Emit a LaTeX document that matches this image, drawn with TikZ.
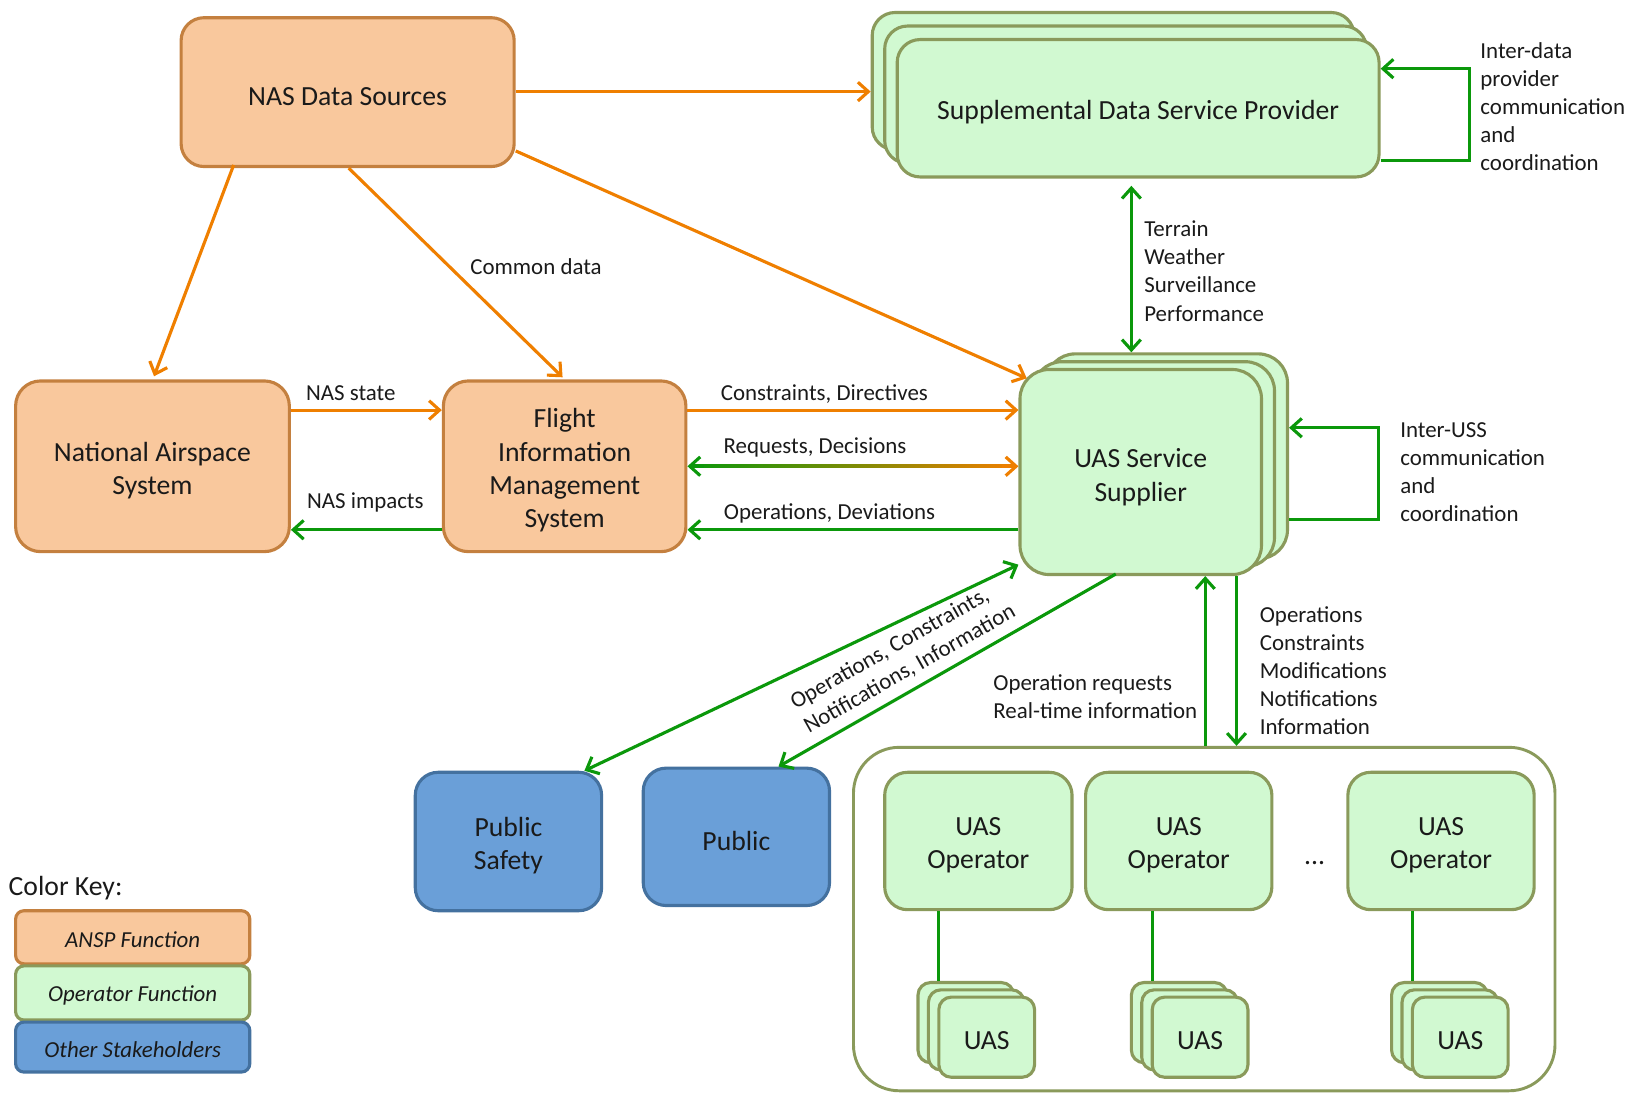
\documentclass[tikz,border=0pt]{standalone}
\usepackage{fontspec}
\setmainfont{Carlito}
\usetikzlibrary{arrows.meta,calc}
\definecolor{ofill}{HTML}{F9C89D}
\definecolor{oborder}{HTML}{C4803F}
\definecolor{oarrow}{HTML}{EF7F00}
\definecolor{gfill}{HTML}{D1F9D1}
\definecolor{gborder}{HTML}{8A9A5B}
\definecolor{garrow}{HTML}{0B980B}
\definecolor{bfill}{HTML}{6A9FD8}
\definecolor{bborder}{HTML}{44719F}
\definecolor{txt}{HTML}{1A1A1A}
\newcommand{\mainfs}{\fontsize{13.3}{16}\selectfont}
\newcommand{\lblfs}{\fontsize{11}{13.5}\selectfont}
\begin{document}
\begin{tikzpicture}[x=0.5pt,y=-0.5pt,
  >={Straight Barb[length=5pt,width=9pt]},
  box/.style={rectangle, line width=1.5pt, inner sep=0pt},
  obox/.style={box, fill=ofill, draw=oborder},
  gbox/.style={box, fill=gfill, draw=gborder},
  bbox/.style={box, fill=bfill, draw=bborder},
  btxt/.style={font=\mainfs, text=txt, align=center, inner sep=0pt, yshift=-2pt},
  ktxt/.style={font=\lblfs\itshape, text=txt, inner sep=0pt, yshift=-1.2pt},
  oarr/.style={draw=oarrow, line width=1.5pt, ->},
  garr/.style={draw=garrow, line width=1.5pt, ->},
  gline/.style={draw=garrow, line width=1.3pt},
  lbl/.style={font=\lblfs, text=txt, inner sep=0pt, align=left},
  keybox/.style={rounded corners=4pt, minimum width=112.5pt}
]
\useasboundingbox (0,0) rectangle (1568,1050);

% ---- boxes ----
\node[obox, rounded corners=11pt, minimum width=160pt, minimum height=71.5pt,
  label={[btxt]center:NAS Data Sources}] (nds) at (334,88.5) {};

\node[gbox, rounded corners=11pt, minimum width=231.5pt, minimum height=66pt] (sdspC) at (1069.5,78) {};
\node[gbox, rounded corners=11pt, minimum width=231.5pt, minimum height=66pt] (sdspB) at (1081.5,91) {};
\node[gbox, rounded corners=11pt, minimum width=231.5pt, minimum height=66pt,
  label={[btxt]center:Supplemental Data Service Provider}] (sdsp) at (1093.5,104) {};

\node[obox, rounded corners=12pt, minimum width=131.5pt, minimum height=82pt,
  label={[btxt]center:{National Airspace\\System}}] (nas) at (146.5,448) {};
\node[obox, rounded corners=12pt, minimum width=116.5pt, minimum height=82pt,
  label={[btxt]center:{Flight\\Information\\Management\\System}}] (fims) at (542.5,448) {};

\node[gbox, rounded corners=14pt, minimum width=116pt, minimum height=98.5pt] (ussC) at (1121,438.5) {};
\node[gbox, rounded corners=14pt, minimum width=116pt, minimum height=98.5pt] (ussB) at (1108.5,446) {};
\node[gbox, rounded corners=14pt, minimum width=116pt, minimum height=98.5pt,
  label={[btxt, yshift=-0.5pt]center:{UAS Service\\Supplier}}] (uss) at (1096,453.5) {};

\node[bbox, rounded corners=11pt, minimum width=89.5pt, minimum height=66.5pt,
  label={[btxt]center:{Public\\Safety}}] (ps) at (488.5,808.5) {};
\node[bbox, rounded corners=11pt, minimum width=89.5pt, minimum height=66pt,
  label={[btxt]center:Public}] (pub) at (707.5,804) {};

\node[box, draw=gborder, fill=white, line width=1.4pt, rounded corners=22pt, minimum width=337pt, minimum height=165pt] (cont) at (1157,883) {};

\node[gbox, rounded corners=11pt, minimum width=90pt, minimum height=66pt,
  label={[btxt]center:{UAS\\Operator}}] (op1) at (940,808) {};
\node[gbox, rounded corners=11pt, minimum width=89.5pt, minimum height=66pt,
  label={[btxt]center:{UAS\\Operator}}] (op2) at (1132.5,808) {};
\node[gbox, rounded corners=11pt, minimum width=89.5pt, minimum height=66pt,
  label={[btxt]center:{UAS\\Operator}}] (op3) at (1384.5,808) {};
\node[font=\mainfs, text=txt, inner sep=0pt] (dots) at (1263,829) {...};

\foreach \n/\cx in {A/948,B/1153,C/1403}{
  \node[gbox, rounded corners=6pt, minimum width=46pt, minimum height=38.5pt] (uas\n3) at (\cx-20,982.5) {};
  \node[gbox, rounded corners=6pt, minimum width=46pt, minimum height=38.5pt] (uas\n2) at (\cx-10,989.5) {};
  \node[gbox, rounded corners=6pt, minimum width=46pt, minimum height=38.5pt,
    label={[btxt, yshift=0.5pt]center:UAS}] (uas\n) at (\cx,996.5) {};
}

% ---- color key ----
\node[font=\mainfs, text=txt, inner sep=0pt, anchor=west] (ckey) at (8,853) {Color Key:};
\node[obox, keybox, minimum height=25.5pt, label={[ktxt]center:ANSP Function}] (k1) at (127.5,900.5) {};
\node[gbox, keybox, minimum height=26pt, label={[ktxt]center:Operator Function}] (k2) at (127.5,954) {};
\node[bbox, keybox, minimum height=24pt, label={[ktxt]center:Other Stakeholders}] (k3) at (127.5,1006) {};

% ---- connectors ----
\draw[oarr] (nds.east |- 0,88) -- (sdspC.west |- 0,88);
\draw[oarr] ($(nds.east)+(0,56.5)$) -- ($(uss.north west)+(8,10)$);
\draw[oarr] ($(nds.south west)+(52,-3)$) -- ($(nas.north)+(1.5,-3)$);
\draw[oarr] ($(nds.south)+(1,0)$) -- ($(fims.north)+(-2,-2)$);

\draw[oarr] (nas.east |- 0,394) -- (fims.west |- 0,394);
\draw[garr] (fims.west |- 0,509) -- (nas.east |- 0,509);
\draw[oarr] (fims.east |- 0,394) -- (uss.west |- 0,394);
\draw[garr] (uss.west |- 0,509) -- (fims.east |- 0,509);

% gradient double arrow
\coordinate (rdL) at (fims.east |- 0,448);
\coordinate (rdR) at (uss.west |- 0,448);
\shade[left color=garrow, right color=oarrow] ($(rdL)+(4,-1.5)$) rectangle ($(rdR)+(-4,1.5)$);
\draw[draw=garrow, line width=1.5pt, <-] (rdL) -- ++(16,0);
\draw[draw=oarrow, line width=1.5pt, ->] ($(rdR)+(-16,0)$) -- (rdR);

% SDSP <-> USS
\coordinate (sv) at ($(sdsp.south)+(-6.5,7)$);
\draw[garr, <->] (sv) -- (sv |- ussC.north);

% self loops
\draw[garr] (sdsp.east |- 0,154) -- ++(85,0) |- (sdsp.east |- 0,66);
\draw[garr] (ussC.east |- 0,499) -- ++(86,0) |- (ussC.east |- 0,411);

% USS <-> public
\draw[garr, <->] ($(uss.south west)+(0,-11)$) -- ($(ps.north east)+(-18,0)$);
\draw[garr] ($(uss.south)+(-24,-2)$) -- ($(pub.north)+(40.5,0)$);

% USS <-> operators
\coordinate (cu) at ($(cont.north)+(1,0)$);
\draw[garr] (cu) -- (cu |- uss.south);
\coordinate (cd) at ($(cont.north)+(31,0)$);
\draw[garr] (cd |- uss.south) -- (cd);

% operator - UAS
\coordinate (l1) at ($(op1.south)+(-38,0)$);
\draw[gline] (l1) -- (l1 |- uasA3.north);
\coordinate (l2) at ($(op2.south)+(-25.5,0)$);
\draw[gline] (l2) -- (l2 |- uasB3.north);
\coordinate (l3) at ($(op3.south)+(-27.5,0)$);
\draw[gline] (l3) -- (l3 |- uasC3.north);

% ---- labels ----
\node[lbl] (lcd) at (515,256) {Common data};
\node[lbl] (lns) at (337,378) {NAS state};
\node[lbl] (lni) at (351,483) {NAS impacts};
\node[lbl] (lcdir) at (792,379) {Constraints, Directives};
\node[lbl] (lrd) at (783,430) {Requests, Decisions};
\node[lbl] (lod) at (797,493) {Operations, Deviations};
\node[lbl, anchor=west] (lter) at (1099,260.5) {Terrain\\Weather\\Surveillance\\Performance};
\node[lbl, anchor=west] (lidp) at (1422,102.5) {Inter-data\\provider\\communication\\and\\coordination};
\node[lbl, anchor=west] (liuss) at (1345,453.5) {Inter-USS\\communication\\and\\coordination};
\node[lbl, anchor=west] (lor) at (954,669.5) {Operation requests\\Real-time information};
\node[lbl, anchor=west] (locm) at (1210,644.5) {Operations\\Constraints\\Modifications\\Notifications\\Information};
\node[lbl, anchor=base west, rotate=29.5] (lrot1) at (764,682) {Operations, Constraints,};
\node[lbl, anchor=base west, rotate=29.5] (lrot2) at (777,705) {Notifications, Information};
\end{tikzpicture}
\end{document}
